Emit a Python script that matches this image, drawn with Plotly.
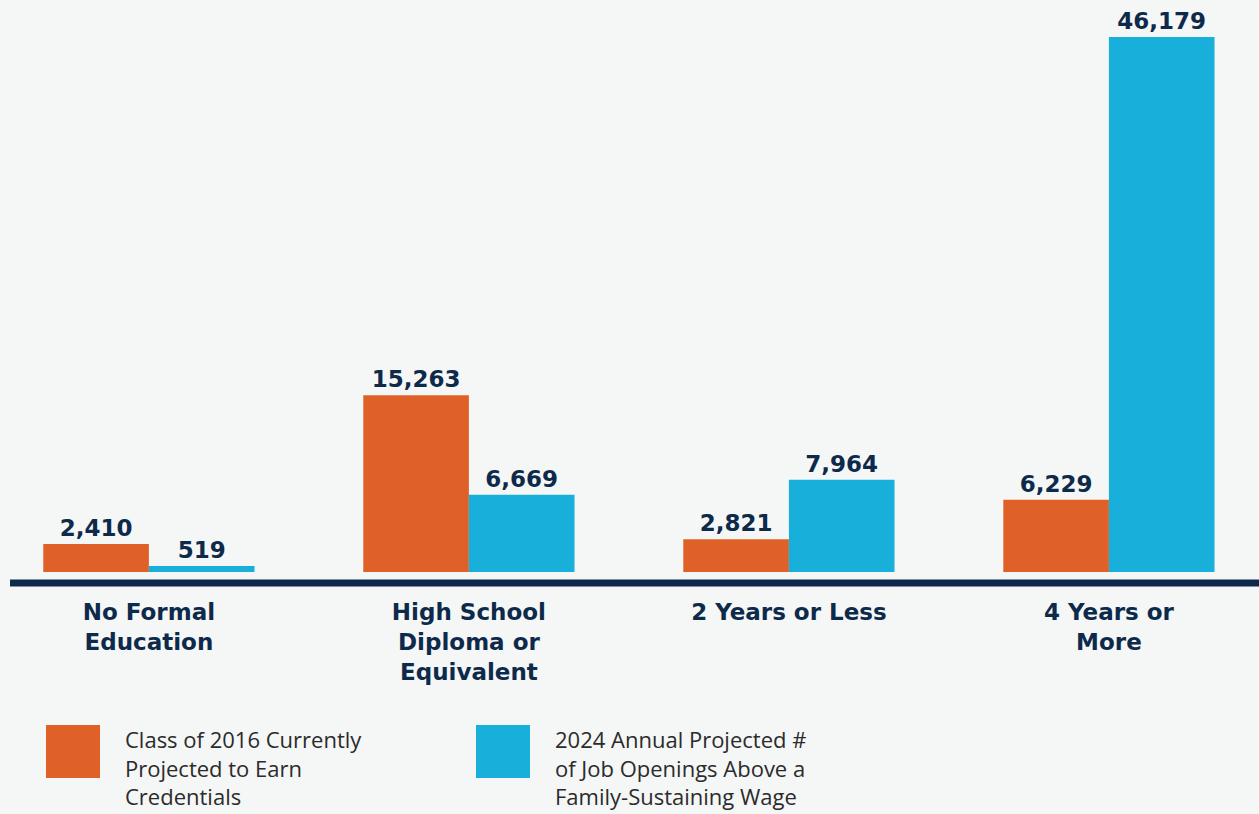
import plotly.graph_objects as go

categories = ["No Formal<br>Education", "High School<br>Diploma or<br>Equivalent", "2 Years or Less", "4 Years or<br>More"]
series_names = ["Class of 2016 Currently<br>Projected to Earn<br>Credentials",
                "2024 Annual Projected #<br>of Job Openings Above a<br>Family-Sustaining Wage"]
class_2016 = [2410, 15263, 2821, 6229]
openings_2024 = [519, 6669, 7964, 46179]

ORANGE = "#e06128"
CYAN = "#18b0da"
NAVY = "#0d2a4a"
BG = "#f5f6f6"

x_idx = list(range(len(categories)))

fig = go.Figure()
for name, vals, col in [(series_names[0], class_2016, ORANGE), (series_names[1], openings_2024, CYAN)]:
    fig.add_trace(go.Bar(
        x=x_idx, y=vals, name=name, marker_color=col, marker_line_width=0,
        text=[f"{v:,}" for v in vals], textposition="outside",
        textfont=dict(family="DejaVu Sans", size=23, color=NAVY, weight=700),
        cliponaxis=False, showlegend=False,
    ))

fig.update_layout(
    width=1259, height=814,
    margin=dict(l=10, r=0, t=30, b=231),
    paper_bgcolor=BG, plot_bgcolor=BG,
    barmode="group", bargap=0.34, bargroupgap=0,
    xaxis=dict(range=[-0.434, 3.469], tickvals=x_idx, ticktext=categories,
               showgrid=False, zeroline=False, showline=False, ticks="",
               tickfont=dict(family="DejaVu Sans", size=23, color=NAVY, weight=700),
               ticklabelstandoff=13, fixedrange=True),
    yaxis=dict(range=[-950, 46785], visible=False, showgrid=False, zeroline=False),
)

# baseline
fig.add_shape(type="line", xref="paper", yref="paper", x0=0, x1=1, y0=0, y1=0,
              line=dict(color=NAVY, width=7))

# custom legend
legend_items = [(series_names[0], ORANGE, 46, 124), (series_names[1], CYAN, 476, 554)]
W, H = 1259, 814
pw = W - 10
ph = H - 30 - 231
for name, col, sx, tx in legend_items:
    fig.add_shape(type="rect", xref="paper", yref="paper",
                  x0=(sx - 10) / pw, x1=(sx + 54 - 10) / pw,
                  y0=(583 - 725) / ph, y1=(583 - 778) / ph,
                  fillcolor=col, line_width=0)
    fig.add_annotation(xref="paper", yref="paper", x=(tx - 10) / pw, y=(583 - 723) / ph,
                       xanchor="left", yanchor="top", align="left", showarrow=False,
                       borderpad=0,
                       text=name, font=dict(family="Open Sans", size=22, color="#2b2b2b"))

fig.write_html("out.html", config={"displayModeBar": False},
               post_script="document.body.style.margin='0';document.body.style.background='" + BG + "';")
